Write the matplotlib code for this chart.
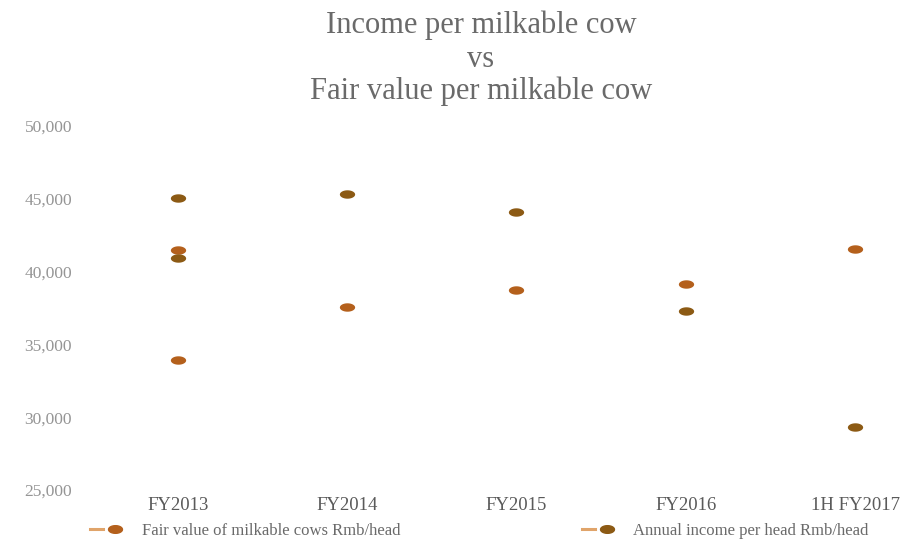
import numpy as np
import matplotlib
matplotlib.use("Agg")
import matplotlib.pyplot as plt
from matplotlib.path import Path
from matplotlib.lines import Line2D
from matplotlib.legend_handler import HandlerTuple

# ---- data -------------------------------------------------------------
categories = ["FY2013", "FY2014", "FY2015", "FY2016", "1H FY2017"]

fair_value_periods = ["FY2013", "FY2013", "FY2014", "FY2015", "FY2016", "1H FY2017"]
fair_value = [41500, 33900, 37600, 38750, 39150, 41550]

income_periods = ["FY2013", "FY2013", "FY2014", "FY2015", "FY2016", "1H FY2017"]
annual_income = [45050, 40900, 45350, 44100, 37300, 29300]

y_ticks = [25000, 30000, 35000, 40000, 45000, 50000]

series_labels = ["Fair value of milkable cows Rmb/head",
                 "Annual income per head Rmb/head"]

# ---- style ------------------------------------------------------------
serif = ["Liberation Serif", "DejaVu Serif"]
c_fair = "#b4601c"
c_income = "#8c5a14"
c_dash = "#e0a46a"

# wide elliptical marker
t = np.linspace(0, 2 * np.pi, 60)
ellipse = Path(np.column_stack([np.cos(t), 0.55 * np.sin(t)]), closed=True)

W, H = 906, 546
fig = plt.figure(figsize=(W / 100, H / 100), dpi=100)
fig.patch.set_facecolor("white")

ax_left, ax_right, ax_top, ax_bottom = 85, 906, 126, 490
ax = fig.add_axes([ax_left / W, 1 - ax_bottom / H,
                   (ax_right - ax_left) / W, (ax_bottom - ax_top) / H])

xi = {c: i for i, c in enumerate(categories)}
ax.scatter([xi[c] for c in fair_value_periods], fair_value, marker=ellipse,
           s=11 ** 2, color=c_fair, linewidths=0, zorder=3)
ax.scatter([xi[c] for c in income_periods], annual_income, marker=ellipse,
           s=11 ** 2, color=c_income, linewidths=0, zorder=3)

ax.set_xlim(-0.549, 4.301)
ax.set_ylim(25000, 50000)
ax.set_xticks(range(len(categories)))
ax.set_xticklabels(categories, fontfamily=serif, fontsize=13.5, color="#5a5a5a")
ax.set_yticks(y_ticks)
ax.set_yticklabels([f"{v:,}" for v in y_ticks], fontfamily=serif,
                   fontsize=12.5, color="#959595")
ax.tick_params(axis="both", length=0)
ax.tick_params(axis="x", pad=5)
ax.tick_params(axis="y", pad=9.4)
for s in ax.spines.values():
    s.set_visible(False)

# title
title_lines = ["Income per milkable cow", "vs", "Fair value per milkable cow"]
for line, base in zip(title_lines, [33, 67, 99]):
    fig.text(481 / W, 1 - base / H, line, ha="center", va="baseline",
             fontfamily=serif, fontsize=22, color="#6a6a6a")

# legend: short dash followed by a dot
h_fair = (Line2D([], [], color=c_dash, lw=2.2),
          Line2D([], [], marker=ellipse, ls="none", color=c_fair, markersize=10))
h_inc = (Line2D([], [], color=c_dash, lw=2.2),
         Line2D([], [], marker=ellipse, ls="none", color=c_income, markersize=10))
leg = fig.legend([h_fair, h_inc], series_labels,
                 handler_map={tuple: HandlerTuple(ndivide=2, pad=0.3)},
                 loc="center left", bbox_to_anchor=(90 / W, 1 - 531 / H), ncol=2,
                 frameon=False, handlelength=1.9, handletextpad=1.2,
                 columnspacing=10.9, borderpad=0, borderaxespad=0,
                 prop={"family": serif, "size": 12})
for txt in leg.get_texts():
    txt.set_color("#6a6a6a")

fig.savefig("out.png", dpi=100, facecolor="white")
